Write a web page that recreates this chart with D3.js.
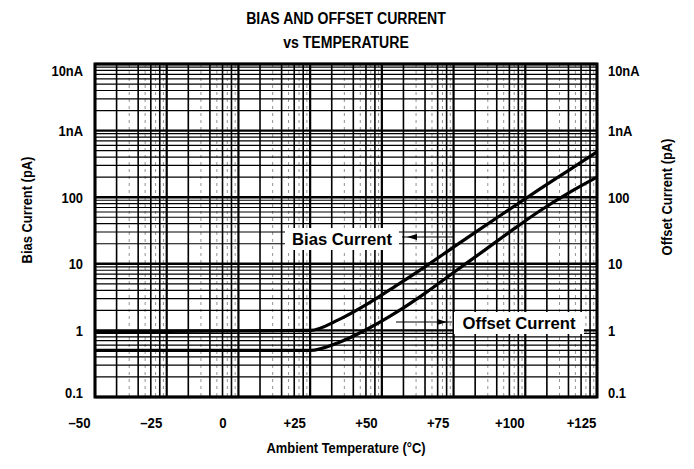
<!DOCTYPE html>
<html>
<head>
<meta charset="utf-8">
<script src="https://cdn.jsdelivr.net/npm/d3@7"></script>
<style>
  body { margin: 0; background: #fff; }
  svg text { font-family: "Liberation Sans", Arial, Helvetica, sans-serif; fill: #000; }
</style>
</head>
<body>
<div id="chart"></div>
<script>
//// data
const temps = [-50, -25, 0, 25, 35, 45, 55, 65, 75, 85, 95, 105, 115, 125];
const biasPA = [0.95, 0.97, 0.98, 1.0, 1.45, 2.5, 4.7, 9.0, 17.8, 35, 68, 132, 251, 479];
const offsetPA = [0.5, 0.5, 0.5, 0.5, 0.66, 1.05, 1.86, 3.6, 7.4, 15.1, 31, 62, 115, 200];

const xTicks = [-50, -25, 0, 25, 50, 75, 100, 125];
const yTicks = [0.1, 1, 10, 100, 1000, 10000];

const W = 694, H = 469;
const plot = { left: 95, right: 597, top: 64, bottom: 397 };

const svg = d3.select('#chart').append('svg')
  .attr('width', W)
  .attr('height', H);

const x = d3.scaleLinear().domain([-50, 125]).range([plot.left, plot.right]);
const y = d3.scaleLog().domain([0.1, 10000]).range([plot.bottom, plot.top]);

//// squeeze text a bit, the scanned font is narrow
const squeeze = (sel, k) => sel.each(function() {
  const len = this.getComputedTextLength();
  d3.select(this).attr('textLength', len * k).attr('lengthAdjust', 'spacingAndGlyphs');
});

//// grid - log paper in both directions
const grid = svg.append('g');
const minorX = [], oddX = [];
xTicks.slice(0, -1).forEach(t0 => {
  for (let k = 2; k <= 9; k++) {
    const t = t0 + 25 * Math.log10(k);
    (k % 2 === 0 ? minorX : oddX).push(t);
  }
});
const minorY = [];
yTicks.slice(0, -1).forEach(d => {
  for (let k = 2; k <= 9; k++) minorY.push(d * k);
});

grid.selectAll('.ox').data(oddX).enter().append('line')
  .attr('x1', d => x(d)).attr('x2', d => x(d))
  .attr('y1', plot.top).attr('y2', plot.bottom)
  .attr('stroke', '#777').attr('stroke-width', 0.8).attr('stroke-dasharray', '3,4');
grid.selectAll('.mx').data(minorX).enter().append('line')
  .attr('x1', d => x(d)).attr('x2', d => x(d))
  .attr('y1', plot.top).attr('y2', plot.bottom)
  .attr('stroke', '#000').attr('stroke-width', 1.6);
grid.selectAll('.my').data(minorY).enter().append('line')
  .attr('x1', plot.left).attr('x2', plot.right)
  .attr('y1', d => y(d)).attr('y2', d => y(d))
  .attr('stroke', '#000').attr('stroke-width', 1.2);
grid.selectAll('.Mx').data(xTicks).enter().append('line')
  .attr('x1', d => x(d)).attr('x2', d => x(d))
  .attr('y1', plot.top).attr('y2', plot.bottom)
  .attr('stroke', '#000').attr('stroke-width', 2.2);
grid.selectAll('.My').data(yTicks).enter().append('line')
  .attr('x1', plot.left).attr('x2', plot.right)
  .attr('y1', d => y(d)).attr('y2', d => y(d))
  .attr('stroke', '#000').attr('stroke-width', 2.4);

grid.append('rect')
  .attr('x', plot.left).attr('y', plot.top)
  .attr('width', plot.right - plot.left).attr('height', plot.bottom - plot.top)
  .attr('fill', 'none').attr('stroke', '#000').attr('stroke-width', 3);

//// curves
const line = d3.line()
  .x(d => x(d[0]))
  .y(d => y(d[1]))
  .curve(d3.curveMonotoneX);

[biasPA, offsetPA].forEach(series => {
  svg.append('path')
    .datum(temps.map((t, i) => [t, series[i]]))
    .attr('d', line)
    .attr('fill', 'none')
    .attr('stroke', '#000')
    .attr('stroke-width', 3.2)
    .attr('stroke-linejoin', 'round');
});

//// annotations
const note = (label, cx, cy, w) => {
  svg.append('rect')
    .attr('x', cx - w / 2).attr('y', cy - 11)
    .attr('width', w).attr('height', 22)
    .attr('fill', '#fff');
  svg.append('text')
    .attr('x', cx).attr('y', cy)
    .attr('dy', '0.36em')
    .attr('text-anchor', 'middle')
    .style('font-size', '17px')
    .style('font-weight', 'bold')
    .text(label)
    .call(squeeze, 0.98);
};
note('Bias Current', 342, 239, 114);
note('Offset Current', 519, 323, 130);

const arrow = (x1, x2, yy) => {
  svg.append('line').attr('x1', x1).attr('x2', x2).attr('y1', yy).attr('y2', yy)
    .attr('stroke', '#000').attr('stroke-width', 1.2);
  const dir = x2 > x1 ? 1 : -1;
  const tip = x2 - dir * 5;
  svg.append('path')
    .attr('d', `M${tip},${yy} L${tip - dir * 10},${yy - 3} L${tip - dir * 10},${yy + 3} Z`)
    .attr('fill', '#000');
};
arrow(453, 402, 237);
arrow(396, 452, 322);

//// axes
const fmtY = v => v >= 1000 ? (v / 1000) + 'nA' : String(v);
const fmtX = v => v > 0 ? '+' + v : v < 0 ? '\u2013' + Math.abs(v) : '0';

const styleAxis = g => {
  g.select('.domain').remove();
  g.selectAll('text')
    .style('font-family', '"Liberation Sans", Arial, sans-serif')
    .style('font-size', '15px')
    .style('font-weight', 'bold')
    .attr('fill', '#000');
};

const left = svg.append('g')
  .attr('transform', `translate(${plot.left},0)`)
  .call(d3.axisLeft(y).tickValues(yTicks).tickFormat(fmtY).tickSize(0).tickPadding(12))
  .call(styleAxis);
const right = svg.append('g')
  .attr('transform', `translate(${plot.right},0)`)
  .call(d3.axisRight(y).tickValues(yTicks).tickFormat(fmtY).tickSize(0).tickPadding(11))
  .call(styleAxis);
[left, right].forEach(g => {
  g.selectAll('text')
    .attr('dy', d => d === 10000 ? '0.75em' : d === 0.1 ? '0' : '0.32em')
    .call(squeeze, 0.86);
});

svg.append('g')
  .attr('transform', `translate(0,${plot.bottom})`)
  .call(d3.axisBottom(x).tickValues(xTicks).tickFormat(fmtX).tickSize(0).tickPadding(20))
  .call(styleAxis)
  .selectAll('text')
  .attr('dx', -16)
  .call(squeeze, 0.88);

//// titles
svg.append('text')
  .attr('x', 346).attr('y', 24)
  .attr('text-anchor', 'middle')
  .style('font-size', '16px').style('font-weight', 'bold')
  .text('BIAS AND OFFSET CURRENT')
  .call(squeeze, 0.88);
svg.append('text')
  .attr('x', 346).attr('y', 48)
  .attr('text-anchor', 'middle')
  .style('font-size', '16px').style('font-weight', 'bold')
  .text('vs TEMPERATURE')
  .call(squeeze, 0.88);

svg.append('text')
  .attr('x', 346).attr('y', 453)
  .attr('text-anchor', 'middle')
  .style('font-size', '15px').style('font-weight', 'bold')
  .text('Ambient Temperature (°C)')
  .call(squeeze, 0.86);

svg.append('text')
  .attr('transform', 'translate(32,210) rotate(-90)')
  .attr('text-anchor', 'middle')
  .style('font-size', '15px').style('font-weight', 'bold')
  .text('Bias Current (pA)')
  .call(squeeze, 0.86);

svg.append('text')
  .attr('transform', 'translate(672,197) rotate(-90)')
  .attr('text-anchor', 'middle')
  .style('font-size', '15px').style('font-weight', 'bold')
  .text('Offset Current (pA)')
  .call(squeeze, 0.86);
</script>
</body>
</html>
